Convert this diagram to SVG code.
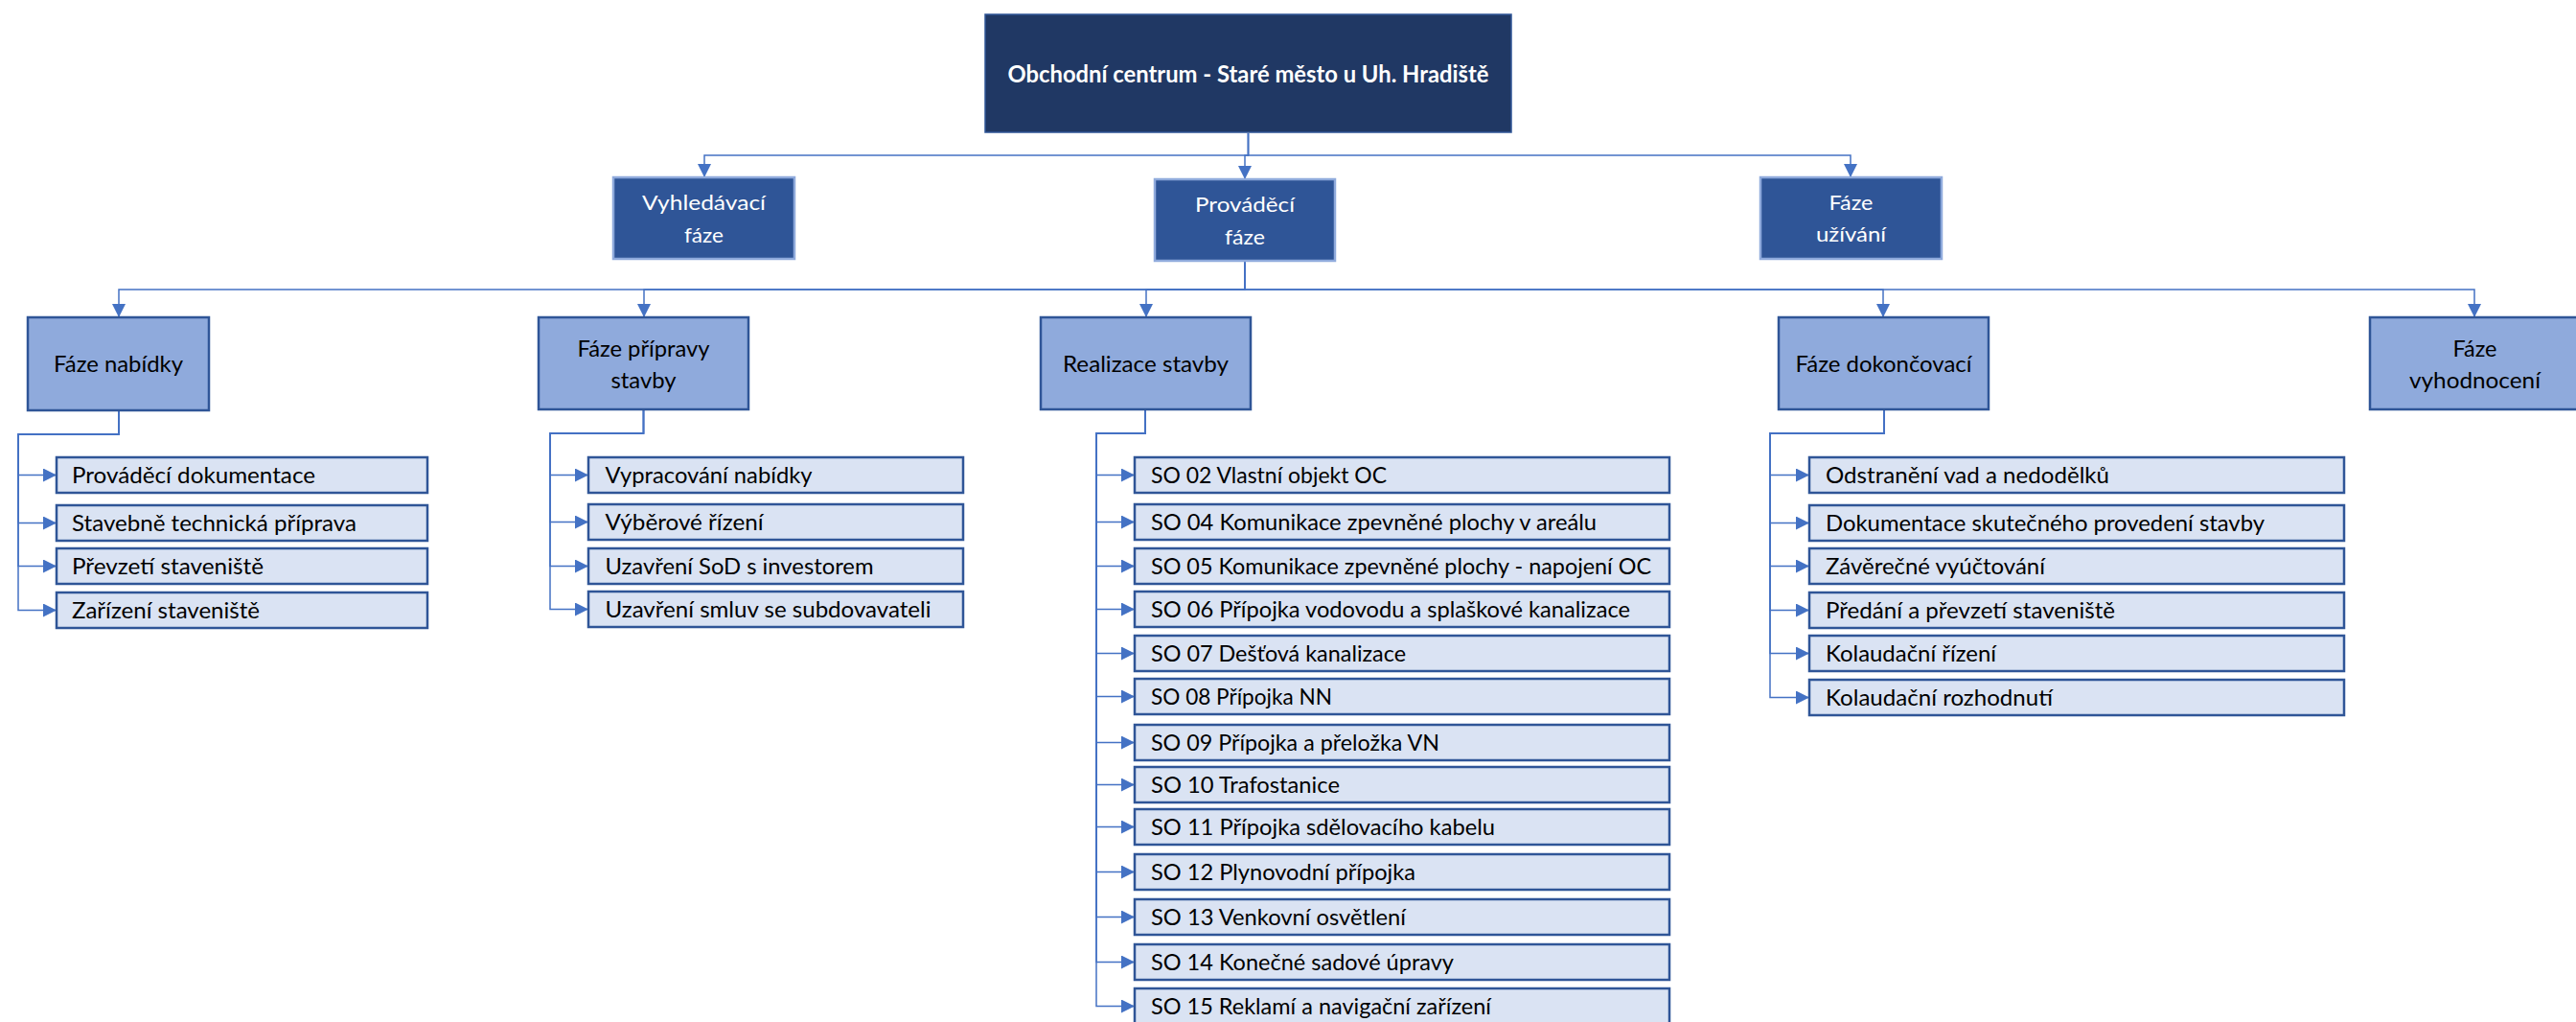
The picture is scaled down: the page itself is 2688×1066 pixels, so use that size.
<svg xmlns="http://www.w3.org/2000/svg" width="2688" height="1066" viewBox="0 0 2688 1066">
  <style>
    text { font-family: "Lato", "Liberation Sans", sans-serif; }
    .root { fill: #203864; stroke: #2F5597; stroke-width: 1.5; }
    .phase { fill: #2F5597; stroke: #8FAADC; stroke-width: 2.5; }
    .stage { fill: #8FAADC; stroke: #2F5597; stroke-width: 2.5; }
    .item { fill: #DAE3F3; stroke: #2F5597; stroke-width: 2.5; }
    .t-root { fill: #FFFFFF; font-size: 25px; font-weight: bold; text-anchor: middle; }
    .t-phase { fill: #FFFFFF; font-size: 22px; text-anchor: middle; }
    .t-stage { fill: #000000; font-size: 23px; text-anchor: middle; }
    .t-item { fill: #000000; font-size: 23px; }
    .conn { fill: none; stroke: #4472C4; stroke-width: 1.5; marker-end: url(#arrow); }
  </style>
  <defs>
    <marker id="arrow" markerUnits="userSpaceOnUse" markerWidth="14" markerHeight="14" refX="14" refY="7" orient="auto">
      <path d="M0,0 L14,7 L0,14 Z" fill="#4472C4"/>
    </marker>
  </defs>

  <rect width="2688" height="1066" fill="#FFFFFF"/>

  <!-- connectors -->
  <g id="connectors">
    <!-- root to phases -->
    <path class="conn" d="M1302.5,139 V162 H735 V185"/>
    <path class="conn" d="M1302.5,139 V162 H1299 V187"/>
    <path class="conn" d="M1302.5,139 V162 H1931 V185"/>
    <!-- execution phase to stages -->
    <path class="conn" d="M1299,272 V302 H124 V331"/>
    <path class="conn" d="M1299,272 V302 H672 V331"/>
    <path class="conn" d="M1299,272 V302 H1196 V331"/>
    <path class="conn" d="M1299,272 V302 H1965 V331"/>
    <path class="conn" d="M1299,272 V302 H2582 V331"/>
    <!-- Fáze nabídky items -->
    <path class="conn" d="M124,428 V453 H19 V495.5 H59"/>
    <path class="conn" d="M124,428 V453 H19 V545.5 H59"/>
    <path class="conn" d="M124,428 V453 H19 V590.5 H59"/>
    <path class="conn" d="M124,428 V453 H19 V636.5 H59"/>
    <!-- Fáze přípravy stavby items -->
    <path class="conn" d="M671.5,427 V452 H574 V495.5 H614"/>
    <path class="conn" d="M671.5,427 V452 H574 V544.5 H614"/>
    <path class="conn" d="M671.5,427 V452 H574 V590.5 H614"/>
    <path class="conn" d="M671.5,427 V452 H574 V635.5 H614"/>
    <!-- Realizace stavby items -->
    <path class="conn" d="M1195,427 V452 H1144 V495.5 H1184"/>
    <path class="conn" d="M1195,427 V452 H1144 V544.5 H1184"/>
    <path class="conn" d="M1195,427 V452 H1144 V590.5 H1184"/>
    <path class="conn" d="M1195,427 V452 H1144 V635.5 H1184"/>
    <path class="conn" d="M1195,427 V452 H1144 V681.5 H1184"/>
    <path class="conn" d="M1195,427 V452 H1144 V726.5 H1184"/>
    <path class="conn" d="M1195,427 V452 H1144 V774.5 H1184"/>
    <path class="conn" d="M1195,427 V452 H1144 V818.5 H1184"/>
    <path class="conn" d="M1195,427 V452 H1144 V862.5 H1184"/>
    <path class="conn" d="M1195,427 V452 H1144 V909.5 H1184"/>
    <path class="conn" d="M1195,427 V452 H1144 V956.5 H1184"/>
    <path class="conn" d="M1195,427 V452 H1144 V1003.5 H1184"/>
    <path class="conn" d="M1195,427 V452 H1144 V1049.5 H1184"/>
    <!-- Fáze dokončovací items -->
    <path class="conn" d="M1966,427 V452 H1847 V495.5 H1888"/>
    <path class="conn" d="M1966,427 V452 H1847 V545.5 H1888"/>
    <path class="conn" d="M1966,427 V452 H1847 V590.5 H1888"/>
    <path class="conn" d="M1966,427 V452 H1847 V636.5 H1888"/>
    <path class="conn" d="M1966,427 V452 H1847 V681.5 H1888"/>
    <path class="conn" d="M1966,427 V452 H1847 V727.5 H1888"/>
  </g>

  <!-- root -->
  <g id="root">
    <rect class="root" x="1028" y="15" width="549" height="123"/>
    <text class="t-root" x="1302.5" y="86" textLength="502" lengthAdjust="spacingAndGlyphs">Obchodní centrum - Staré město u Uh. Hradiště</text>
  </g>

  <!-- phases -->
  <g id="phase-vyhledavaci">
    <rect class="phase" x="640" y="185" width="189" height="85"/>
    <text class="t-phase" x="734.5" y="219" textLength="129" lengthAdjust="spacingAndGlyphs">Vyhledávací</text>
    <text class="t-phase" x="734.5" y="253" textLength="41" lengthAdjust="spacingAndGlyphs">fáze</text>
  </g>
  <g id="phase-provadeci">
    <rect class="phase" x="1205" y="187" width="188" height="85"/>
    <text class="t-phase" x="1299" y="221" textLength="104" lengthAdjust="spacingAndGlyphs">Prováděcí</text>
    <text class="t-phase" x="1299" y="255" textLength="42" lengthAdjust="spacingAndGlyphs">fáze</text>
  </g>
  <g id="phase-uzivani">
    <rect class="phase" x="1837" y="185" width="189" height="85"/>
    <text class="t-phase" x="1931.5" y="219" textLength="46" lengthAdjust="spacingAndGlyphs">Fáze</text>
    <text class="t-phase" x="1931.5" y="252" textLength="73" lengthAdjust="spacingAndGlyphs">užívání</text>
  </g>

  <!-- stages -->
  <g id="stage-nabidky">
    <rect class="stage" x="29" y="331" width="189" height="97"/>
    <text class="t-stage" x="123.5" y="388" textLength="135" lengthAdjust="spacingAndGlyphs">Fáze nabídky</text>
  </g>
  <g id="stage-pripravy">
    <rect class="stage" x="562" y="331" width="219" height="96"/>
    <text class="t-stage" x="671.5" y="372" textLength="138" lengthAdjust="spacingAndGlyphs">Fáze přípravy</text>
    <text class="t-stage" x="671.5" y="404.5" textLength="68" lengthAdjust="spacingAndGlyphs">stavby</text>
  </g>
  <g id="stage-realizace">
    <rect class="stage" x="1086" y="331" width="219" height="96"/>
    <text class="t-stage" x="1195.5" y="388" textLength="173" lengthAdjust="spacingAndGlyphs">Realizace stavby</text>
  </g>
  <g id="stage-dokoncovaci">
    <rect class="stage" x="1856" y="331" width="219" height="96"/>
    <text class="t-stage" x="1965.5" y="388" textLength="184" lengthAdjust="spacingAndGlyphs">Fáze dokončovací</text>
  </g>
  <g id="stage-vyhodnoceni">
    <rect class="stage" x="2473" y="331" width="219" height="96"/>
    <text class="t-stage" x="2582.5" y="372" textLength="46" lengthAdjust="spacingAndGlyphs">Fáze</text>
    <text class="t-stage" x="2582.5" y="405" textLength="137" lengthAdjust="spacingAndGlyphs">vyhodnocení</text>
  </g>

  <!-- Fáze nabídky items -->
  <g id="item-nabidky-1">
    <rect class="item" x="59" y="477" width="387" height="37"/>
    <text class="t-item" x="75" y="504" textLength="254" lengthAdjust="spacingAndGlyphs">Prováděcí dokumentace</text>
  </g>
  <g id="item-nabidky-2">
    <rect class="item" x="59" y="527" width="387" height="37"/>
    <text class="t-item" x="75" y="554" textLength="297" lengthAdjust="spacingAndGlyphs">Stavebně technická příprava</text>
  </g>
  <g id="item-nabidky-3">
    <rect class="item" x="59" y="572" width="387" height="37"/>
    <text class="t-item" x="75" y="599" textLength="200" lengthAdjust="spacingAndGlyphs">Převzetí staveniště</text>
  </g>
  <g id="item-nabidky-4">
    <rect class="item" x="59" y="618" width="387" height="37"/>
    <text class="t-item" x="75" y="645" textLength="196" lengthAdjust="spacingAndGlyphs">Zařízení staveniště</text>
  </g>

  <!-- Fáze přípravy stavby items -->
  <g id="item-pripravy-1">
    <rect class="item" x="614" y="477" width="391" height="37"/>
    <text class="t-item" x="631.5" y="504" textLength="216" lengthAdjust="spacingAndGlyphs">Vypracování nabídky</text>
  </g>
  <g id="item-pripravy-2">
    <rect class="item" x="614" y="526" width="391" height="37"/>
    <text class="t-item" x="631.5" y="553" textLength="165" lengthAdjust="spacingAndGlyphs">Výběrové řízení</text>
  </g>
  <g id="item-pripravy-3">
    <rect class="item" x="614" y="572" width="391" height="37"/>
    <text class="t-item" x="631.5" y="599" textLength="280" lengthAdjust="spacingAndGlyphs">Uzavření SoD s investorem</text>
  </g>
  <g id="item-pripravy-4">
    <rect class="item" x="614" y="617" width="391" height="37"/>
    <text class="t-item" x="631.5" y="644" textLength="340" lengthAdjust="spacingAndGlyphs">Uzavření smluv se subdovavateli</text>
  </g>

  <!-- Realizace stavby items -->
  <g id="item-so02">
    <rect class="item" x="1184" y="477" width="558" height="37"/>
    <text class="t-item" x="1201" y="504" textLength="246" lengthAdjust="spacingAndGlyphs">SO 02 Vlastní objekt OC</text>
  </g>
  <g id="item-so04">
    <rect class="item" x="1184" y="526" width="558" height="37"/>
    <text class="t-item" x="1201" y="553" textLength="465" lengthAdjust="spacingAndGlyphs">SO 04 Komunikace zpevněné plochy v areálu</text>
  </g>
  <g id="item-so05">
    <rect class="item" x="1184" y="572" width="558" height="37"/>
    <text class="t-item" x="1201" y="599" textLength="522" lengthAdjust="spacingAndGlyphs">SO 05 Komunikace zpevněné plochy - napojení OC</text>
  </g>
  <g id="item-so06">
    <rect class="item" x="1184" y="617" width="558" height="37"/>
    <text class="t-item" x="1201" y="644" textLength="500" lengthAdjust="spacingAndGlyphs">SO 06 Přípojka vodovodu a splaškové kanalizace</text>
  </g>
  <g id="item-so07">
    <rect class="item" x="1184" y="663" width="558" height="37"/>
    <text class="t-item" x="1201" y="690" textLength="266" lengthAdjust="spacingAndGlyphs">SO 07 Dešťová kanalizace</text>
  </g>
  <g id="item-so08">
    <rect class="item" x="1184" y="708" width="558" height="37"/>
    <text class="t-item" x="1201" y="735" textLength="189" lengthAdjust="spacingAndGlyphs">SO 08 Přípojka NN</text>
  </g>
  <g id="item-so09">
    <rect class="item" x="1184" y="756" width="558" height="37"/>
    <text class="t-item" x="1201" y="783" textLength="301" lengthAdjust="spacingAndGlyphs">SO 09 Přípojka a přeložka VN</text>
  </g>
  <g id="item-so10">
    <rect class="item" x="1184" y="800" width="558" height="37"/>
    <text class="t-item" x="1201" y="827" textLength="197" lengthAdjust="spacingAndGlyphs">SO 10 Trafostanice</text>
  </g>
  <g id="item-so11">
    <rect class="item" x="1184" y="844" width="558" height="37"/>
    <text class="t-item" x="1201" y="871" textLength="359" lengthAdjust="spacingAndGlyphs">SO 11 Přípojka sdělovacího kabelu</text>
  </g>
  <g id="item-so12">
    <rect class="item" x="1184" y="891" width="558" height="37"/>
    <text class="t-item" x="1201" y="918" textLength="276" lengthAdjust="spacingAndGlyphs">SO 12 Plynovodní přípojka</text>
  </g>
  <g id="item-so13">
    <rect class="item" x="1184" y="938" width="558" height="37"/>
    <text class="t-item" x="1201" y="965" textLength="266" lengthAdjust="spacingAndGlyphs">SO 13 Venkovní osvětlení</text>
  </g>
  <g id="item-so14">
    <rect class="item" x="1184" y="985" width="558" height="37"/>
    <text class="t-item" x="1201" y="1012" textLength="316" lengthAdjust="spacingAndGlyphs">SO 14 Konečné sadové úpravy</text>
  </g>
  <g id="item-so15">
    <rect class="item" x="1184" y="1031" width="558" height="37"/>
    <text class="t-item" x="1201" y="1058" textLength="355" lengthAdjust="spacingAndGlyphs">SO 15 Reklamí a navigační zařízení</text>
  </g>

  <!-- Fáze dokončovací items -->
  <g id="item-dokoncovaci-1">
    <rect class="item" x="1888" y="477" width="558" height="37"/>
    <text class="t-item" x="1905" y="504" textLength="296" lengthAdjust="spacingAndGlyphs">Odstranění vad a nedodělků</text>
  </g>
  <g id="item-dokoncovaci-2">
    <rect class="item" x="1888" y="527" width="558" height="37"/>
    <text class="t-item" x="1905" y="554" textLength="458" lengthAdjust="spacingAndGlyphs">Dokumentace skutečného provedení stavby</text>
  </g>
  <g id="item-dokoncovaci-3">
    <rect class="item" x="1888" y="572" width="558" height="37"/>
    <text class="t-item" x="1905" y="599" textLength="229" lengthAdjust="spacingAndGlyphs">Závěrečné vyúčtování</text>
  </g>
  <g id="item-dokoncovaci-4">
    <rect class="item" x="1888" y="618" width="558" height="37"/>
    <text class="t-item" x="1905" y="645" textLength="302" lengthAdjust="spacingAndGlyphs">Předání a převzetí staveniště</text>
  </g>
  <g id="item-dokoncovaci-5">
    <rect class="item" x="1888" y="663" width="558" height="37"/>
    <text class="t-item" x="1905" y="690" textLength="178" lengthAdjust="spacingAndGlyphs">Kolaudační řízení</text>
  </g>
  <g id="item-dokoncovaci-6">
    <rect class="item" x="1888" y="709" width="558" height="37"/>
    <text class="t-item" x="1905" y="736" textLength="237" lengthAdjust="spacingAndGlyphs">Kolaudační rozhodnutí</text>
  </g>
</svg>
